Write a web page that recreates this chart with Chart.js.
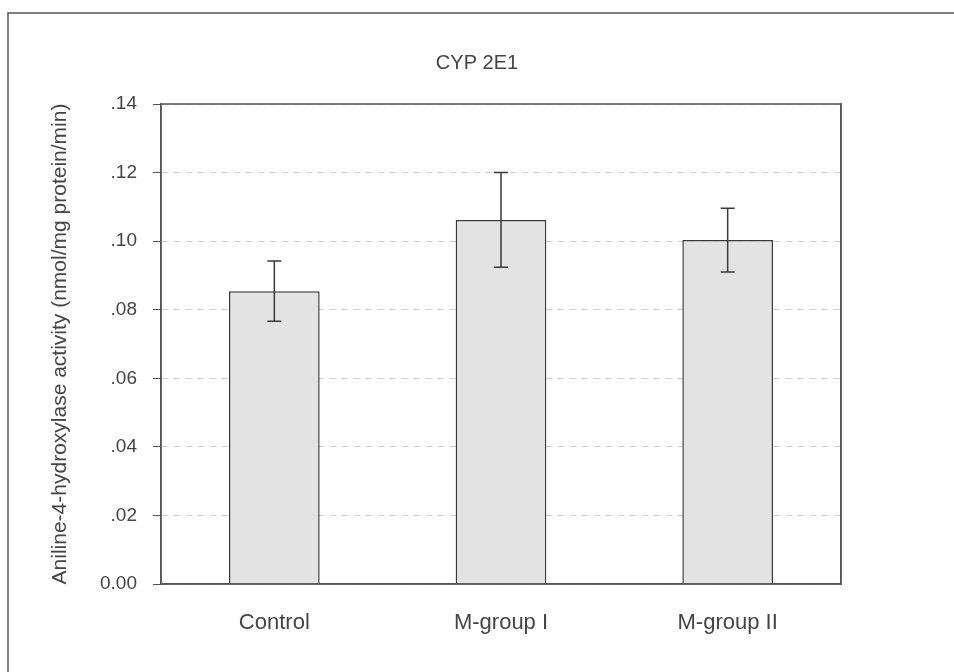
<!DOCTYPE html>
<html lang="en">
<head>
    <meta charset="UTF-8">
    <title>CYP 2E1</title>
    <script src="https://cdn.jsdelivr.net/npm/chart.js"></script>
    <style>
        body {
            margin: 0;
            background-color: #ffffff;
        }
        canvas {
            display: block;
        }
    </style>
</head>
<body>
    <canvas id="cypChart" width="954" height="672"></canvas>

    <script>
        // values
        const groups = ['Control', 'M-group I', 'M-group II'];
        const activity = [0.0854, 0.1062, 0.1003];
        const sem = [0.0088, 0.0138, 0.0093];
        const yTickLabels = ['0.00', '.02', '.04', '.06', '.08', '.10', '.12', '.14'];

        const textColor = '#444444';
        const lineColor = '#3a3a3a';

        // error bars + frame around the plot and the page
        const extras = {
            id: 'extras',
            afterDatasetsDraw(chart) {
                const ctx = chart.ctx;
                const yScale = chart.scales.y;
                const meta = chart.getDatasetMeta(0);
                ctx.save();
                ctx.strokeStyle = lineColor;
                ctx.lineWidth = 1.5;
                meta.data.forEach((bar, i) => {
                    const top = yScale.getPixelForValue(activity[i] + sem[i]);
                    const bottom = yScale.getPixelForValue(activity[i] - sem[i]);
                    ctx.beginPath();
                    ctx.moveTo(bar.x, top);
                    ctx.lineTo(bar.x, bottom);
                    ctx.moveTo(bar.x - 7, top);
                    ctx.lineTo(bar.x + 7, top);
                    ctx.moveTo(bar.x - 7, bottom);
                    ctx.lineTo(bar.x + 7, bottom);
                    ctx.stroke();
                });
                ctx.restore();
            },
            afterDraw(chart) {
                const ctx = chart.ctx;
                const a = chart.chartArea;
                ctx.save();
                ctx.strokeStyle = '#555555';
                ctx.lineWidth = 1.5;
                ctx.strokeRect(a.left, a.top, a.right - a.left, a.bottom - a.top);
                // outer frame of the scanned page
                ctx.beginPath();
                ctx.moveTo(8, 672);
                ctx.lineTo(8, 13);
                ctx.lineTo(954, 13);
                ctx.stroke();
                ctx.restore();
            }
        };

        const ctx = document.getElementById('cypChart').getContext('2d');
        new Chart(ctx, {
            type: 'bar',
            data: {
                labels: groups,
                datasets: [{
                    data: activity,
                    backgroundColor: '#e3e3e3',
                    borderColor: lineColor,
                    borderWidth: 1.5,
                    categoryPercentage: 1,
                    barPercentage: 0.4
                }]
            },
            options: {
                responsive: false,
                animation: false,
                layout: { padding: 0 },
                plugins: {
                    legend: { display: false },
                    tooltip: { enabled: false },
                    title: {
                        display: true,
                        text: 'CYP 2E1',
                        color: textColor,
                        font: { family: 'Liberation Sans', size: 20, weight: 'normal' },
                        padding: { top: 51, bottom: 29 }
                    }
                },
                scales: {
                    x: {
                        grid: { display: false, drawTicks: false },
                        border: { display: true, color: '#555555', width: 1.5 },
                        ticks: {
                            color: textColor,
                            padding: 26,
                            font: { family: 'Liberation Sans', size: 22 }
                        },
                        afterFit: (scale) => { scale.height = 88; }
                    },
                    y: {
                        min: 0,
                        max: 0.14,
                        grid: {
                            color: '#cfcfcf',
                            tickColor: '#555555',
                            tickLength: 8,
                            lineWidth: 1
                        },
                        border: { display: true, color: '#555555', width: 1.5, dash: [7, 5] },
                        ticks: {
                            stepSize: 0.02,
                            color: textColor,
                            padding: 16,
                            font: { family: 'Liberation Sans', size: 19 },
                            callback: (value, index) => yTickLabels[index]
                        },
                        title: {
                            display: true,
                            text: 'Aniline-4-hydroxylase activity (nmol/mg protein/min)',
                            color: textColor,
                            font: { family: 'Liberation Sans', size: 21 },
                            padding: { top: 48, bottom: 0 }
                        },
                        afterFit: (scale) => { scale.width = 161; }
                    },
                    y2: {
                        position: 'right',
                        min: 0,
                        max: 0.14,
                        grid: { drawOnChartArea: false, drawTicks: false },
                        border: { display: true, color: '#555555', width: 1.5 },
                        ticks: { display: false },
                        afterFit: (scale) => { scale.width = 113; }
                    }
                }
            },
            plugins: [extras]
        });
    </script>
</body>
</html>
